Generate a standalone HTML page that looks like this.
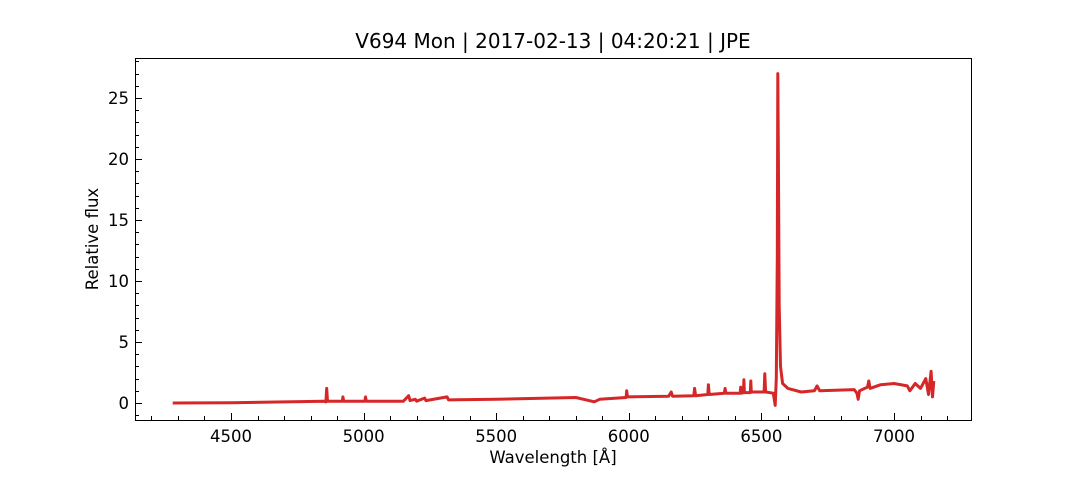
<!DOCTYPE html>
<html><head><meta charset="utf-8"><style>
body{margin:0;background:#fff;}
svg text{font-family:"DejaVu Sans","Liberation Sans",sans-serif;fill:#000;}
</style></head><body>
<svg id="chart" width="1080" height="480" viewBox="0 0 1080 480" xmlns="http://www.w3.org/2000/svg">
<rect width="1080" height="480" fill="#fff"/>
<text x="553" y="48" font-size="20" text-anchor="middle">V694 Mon | 2017-02-13 | 04:20:21 | JPE</text>
<text x="553" y="463" font-size="16.5" text-anchor="middle">Wavelength [Å]</text>
<text x="98" y="239" font-size="16.5" text-anchor="middle" transform="rotate(-90 98 239)">Relative flux</text>
<g id="ticks"></g>
<polyline id="series" fill="none" stroke="#d62728" stroke-width="3" stroke-linejoin="round"/>
<rect x="135.5" y="58.5" width="836" height="362" fill="none" stroke="#000" stroke-width="1"/>
</svg>
<script>
const wavelengths=[4280,4500,4850,4858,4861,4864,4920,4922,4925,5005,5007,5010,5150,5170,5175,5195,5200,5230,5235,5315,5320,5500,5800,5870,5890,5990,5992,5995,6150,6160,6165,6245,6248,6252,6298,6300,6303,6360,6363,6366,6420,6422,6425,6432,6434,6436,6458,6460,6462,6510,6513,6516,6545,6552,6556,6560,6562,6564,6567,6572,6580,6600,6650,6700,6710,6720,6850,6860,6865,6870,6900,6905,6910,6950,7000,7050,7060,7080,7100,7120,7130,7140,7145,7150];
const flux=[0,0.02,0.15,0.1,1.2,0.15,0.15,0.5,0.15,0.15,0.5,0.15,0.15,0.6,0.2,0.3,0.15,0.4,0.2,0.5,0.25,0.3,0.45,0.1,0.3,0.45,1.0,0.5,0.55,0.9,0.55,0.6,1.2,0.6,0.7,1.5,0.7,0.8,1.2,0.8,0.8,1.3,0.8,0.85,1.9,0.85,0.85,1.8,0.9,0.9,2.4,0.9,0.8,-0.2,2,12,27,20,8,3,1.6,1.2,0.9,1.0,1.4,1.0,1.1,0.8,0.3,1.0,1.3,1.8,1.2,1.5,1.6,1.4,1.0,1.6,1.2,2.0,0.7,2.6,0.5,1.8];
const xTicks=[4500,5000,5500,6000,6500,7000];
const yTicks=[0,5,10,15,20,25];
const xs=w=>231+(w-4500)*0.2652;
const ys=f=>403-f*12.2;
const NS='http://www.w3.org/2000/svg';
const g=document.getElementById('ticks');
function line(x1,y1,x2,y2,name){const l=document.createElementNS(NS,'line');
l.setAttribute('x1',x1);l.setAttribute('y1',y1);l.setAttribute('x2',x2);l.setAttribute('y2',y2);l.setAttribute('stroke','#000');


g.appendChild(l);}
function text(x,y,s,anchor,name){const t=document.createElementNS(NS,'text');t.setAttribute('x',x);t.setAttribute('y',y);t.setAttribute('font-size','16.5');t.setAttribute('text-anchor',anchor);t.textContent=s;


g.appendChild(t);}
for(let w=4200;w<=7200;w+=100){const x=Math.round(xs(w))+0.5;if(x<136||x>971)continue;const maj=w%500===0;line(x,420,x,420-(maj?7:4),maj?'x-major-tick':'x-minor-tick');}
xTicks.forEach(w=>text(xs(w),442,String(w),'middle','x-tick-label'));
for(let f=-1;f<=28;f++){const y=Math.round(ys(f))+0.5;if(y<59||y>420)continue;const maj=f%5===0;line(135,y,135+(maj?7:4),y,maj?'y-major-tick':'y-minor-tick');}
yTicks.forEach(f=>text(129,ys(f)+6,String(f),'end','y-tick-label'));
document.getElementById('series').setAttribute('points',wavelengths.map((w,i)=>xs(w).toFixed(1)+','+ys(flux[i]).toFixed(1)).join(' '));
</script>
</body></html>
